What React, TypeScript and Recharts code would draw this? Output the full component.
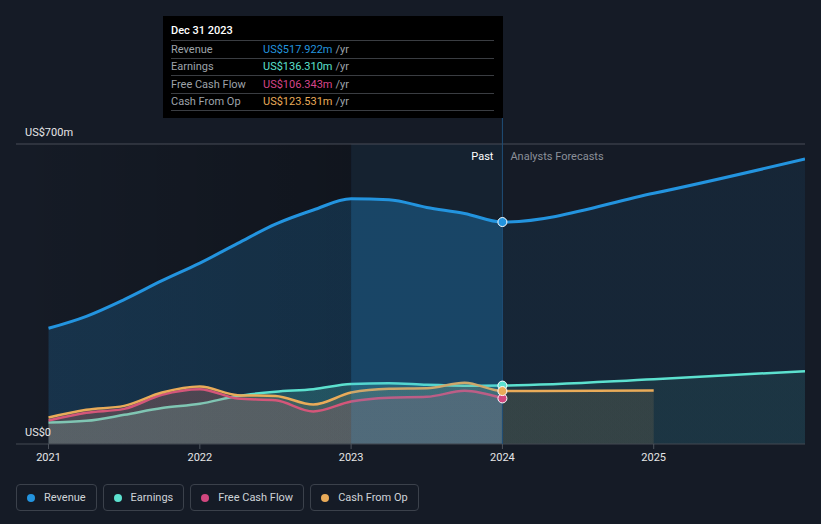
import React from 'react';
import {
  ComposedChart,
  Area,
  XAxis,
  YAxis,
  CartesianGrid,
  ReferenceArea,
  ReferenceLine,
  ReferenceDot,
} from 'recharts';

// ---------- data ----------
const pastYears = [2021, 2021.25, 2021.5, 2021.75, 2022, 2022.25, 2022.5, 2022.75, 2023, 2023.25, 2023.5, 2023.75, 2024];
const revenuePast = [270, 298, 337, 381, 422, 468, 513, 546, 572, 570, 552, 538, 517.922];
const earningsPast = [50, 54, 68, 84, 94, 112, 122, 128, 140, 142, 138, 136, 136.31];
const fcfPast = [55, 73, 82, 115, 128, 106, 102, 76, 99, 108, 110, 124, 106.343];
const cfoPast = [62, 80, 89, 120, 134, 114, 112, 92, 120, 129, 130, 143, 123.531];

const forecastYears = [2024, 2025, 2026];
const revenueForecast = [517.922, 585, 665];
const earningsForecast = [136.31, 151, 170];
const cfoForecast = [123.531, 125];

const xTicks = [2021, 2022, 2023, 2024, 2025];
const yTicks = [0, 200, 400, 600, 700];
const yLabelTicks = [0, 700];
const xDomain: [number, number] = [2020.785, 2026];
const yDomain: [number, number] = [0, 700];
const highlightStart = 2023;
const nowYear = 2024;
const cursorTop = 770;
const tooltipDate = 'Dec 31 2023';

const series = [
  { key: 'revenue', name: 'Revenue', color: '#2394df', past: revenuePast },
  { key: 'earnings', name: 'Earnings', color: '#5ce1cf', past: earningsPast },
  { key: 'fcf', name: 'Free Cash Flow', color: '#d1477f', past: fcfPast },
  { key: 'cfo', name: 'Cash From Op', color: '#e9ab59', past: cfoPast },
];

const tooltipColors: Record<string, string> = {
  revenue: '#2394df',
  earnings: '#5ce1cf',
  fcf: '#d6458a',
  cfo: '#e9ab59',
};

const years = Array.from(new Set([...pastYears, ...forecastYears])).sort((a, b) => a - b);
const data = years.map((year) => {
  const pi = pastYears.indexOf(year);
  const fi = forecastYears.indexOf(year);
  const row: Record<string, number> = { year };
  if (pi >= 0) {
    row.revenue = revenuePast[pi];
    row.earnings = earningsPast[pi];
    row.fcf = fcfPast[pi];
    row.cfo = cfoPast[pi];
    if (year >= highlightStart && year <= nowYear) row.revenueHi = revenuePast[pi];
  }
  if (fi >= 0) {
    row.revenue = revenueForecast[fi];
    row.earnings = earningsForecast[fi];
    if (cfoForecast[fi] != null) row.cfo = cfoForecast[fi];
  }
  return row;
});

const lastIdx = pastYears.length - 1;
const fmt = (v: number) => `US$${v.toFixed(3)}m`;

// where "now" falls within each series' horizontal extent (for past / forecast fill split)
const firstYear = pastYears[0];
const revSplit = (nowYear - firstYear) / (forecastYears[revenueForecast.length - 1] - firstYear);
const earnSplit = (nowYear - firstYear) / (forecastYears[earningsForecast.length - 1] - firstYear);
const cfoSplit = (nowYear - firstYear) / (forecastYears[cfoForecast.length - 1] - firstYear);

const FONT = 'Roboto, "Noto Sans", sans-serif';

const YLabel = (props: any) => {
  const vb = props.viewBox || {};
  const v = props.tickValue;
  const label = v === 0 ? 'US$0' : `US$${v}m`;
  return (
    <text x={(vb.x ?? 0) + 9} y={(vb.y ?? 0) - 8.5} fill="#e6e6e6" fontSize={11} fontFamily={FONT}>
      {label}
    </text>
  );
};

const PastFutureLabel = (props: any) => {
  const vb = props.viewBox || {};
  const x = vb.x ?? 0;
  const y = vb.y ?? 0;
  return (
    <g fontFamily={FONT} fontSize={11}>
      <text x={x - 9} y={y + 16} textAnchor="end" fill="#ffffff">
        Past
      </text>
      <text x={x + 8} y={y + 16} textAnchor="start" fill="#8b9099">
        Analysts Forecasts
      </text>
    </g>
  );
};

const splitGradient = (id: string, color: string, split: number, pastOp: number, futOp: number) => (
  <linearGradient id={id} x1="0" y1="0" x2="1" y2="0">
    <stop offset={0} stopColor={color} stopOpacity={pastOp} />
    <stop offset={split} stopColor={color} stopOpacity={pastOp} />
    <stop offset={split} stopColor={color} stopOpacity={futOp} />
    <stop offset={1} stopColor={color} stopOpacity={futOp} />
  </linearGradient>
);

export default function App() {
  return (
    <div
      style={{
        position: 'absolute',
        left: 0,
        top: 0,
        width: 821,
        height: 524,
        background: '#151b26',
        overflow: 'hidden',
        fontFamily: FONT,
      }}
    >
      <ComposedChart
        width={821}
        height={524}
        data={data}
        margin={{ top: 144, right: 16, bottom: 50, left: 16 }}
        style={{ fontFamily: FONT }}
      >
        <defs>
          <linearGradient id="pastShade" x1="0" y1="0" x2="1" y2="0">
            <stop offset="0%" stopColor="#000" stopOpacity={0} />
            <stop offset="100%" stopColor="#000" stopOpacity={0.22} />
          </linearGradient>
          {splitGradient('revFill', '#2394df', revSplit, 0.2, 0.09)}
          {splitGradient('earnFill', '#5ce1cf', earnSplit, 0.2, 0.08)}
          {splitGradient('cfoFill', '#e9ab59', cfoSplit, 0.15, 0.12)}
        </defs>
        <CartesianGrid vertical={false} stroke="#2a303a" />
        <ReferenceArea
          x1={xDomain[0]}
          x2={highlightStart}
          y1={0}
          y2={700}
          fill="url(#pastShade)"
          fillOpacity={1}
          stroke="none"
          zIndex={-60}
        />
        <ReferenceArea
          x1={highlightStart}
          x2={nowYear}
          y1={0}
          y2={700}
          fill="#2394df"
          fillOpacity={0.06}
          stroke="none"
          zIndex={-60}
        />
        <ReferenceLine y={700} stroke="#3e434c" zIndex={-50} />
        {yLabelTicks.map((v) => (
          <ReferenceLine
            key={`yl${v}`}
            y={v}
            stroke="none"
            label={<YLabel tickValue={v} />}
            zIndex={2000}
          />
        ))}
        <XAxis
          dataKey="year"
          type="number"
          domain={xDomain}
          ticks={xTicks}
          allowDataOverflow
          height={30}
          axisLine={{ stroke: '#3a4049' }}
          tickLine={{ stroke: '#4d535c' }}
          tickSize={5}
          tickMargin={4}
          tick={{ fill: '#e6e6e6', fontSize: 11, fontFamily: FONT }}
          interval={0}
        />
        <YAxis width={0} domain={yDomain} ticks={yTicks} axisLine={false} tickLine={false} tick={false} />

        <Area type="monotone" dataKey="revenue" stroke="#2394df" strokeWidth={3} fill="url(#revFill)" fillOpacity={1} dot={false} activeDot={false} isAnimationActive={false} />
        <Area type="monotone" dataKey="earnings" stroke="#5ce1cf" strokeWidth={2.5} fill="url(#earnFill)" fillOpacity={1} dot={false} activeDot={false} isAnimationActive={false} />
        <Area type="monotone" dataKey="fcf" stroke="#d1477f" strokeWidth={2.5} fill="#d1477f" fillOpacity={0.15} dot={false} activeDot={false} isAnimationActive={false} />
        <Area type="monotone" dataKey="cfo" stroke="#e9ab59" strokeWidth={2.5} fill="url(#cfoFill)" fillOpacity={1} dot={false} activeDot={false} isAnimationActive={false} />
        <Area type="monotone" dataKey="revenueHi" stroke="none" fill="#2394df" fillOpacity={0.14} dot={false} activeDot={false} isAnimationActive={false} />

        <ReferenceLine
          segment={[
            { x: nowYear, y: 0 },
            { x: nowYear, y: cursorTop },
          ]}
          stroke="#1f4f78"
          strokeWidth={1}
          ifOverflow="visible"
          zIndex={1100}
        />
        <ReferenceLine x={nowYear} stroke="none" label={<PastFutureLabel />} zIndex={1100} />

        {series.map((s) => (
          <ReferenceDot
            key={s.key}
            x={nowYear}
            y={s.past[lastIdx]}
            r={4.5}
            fill={s.color}
            stroke="#ffffff"
            strokeWidth={1}
            zIndex={1200}
          />
        ))}
      </ComposedChart>

      {/* tooltip */}
      <div
        style={{
          position: 'absolute',
          left: 163,
          top: 16,
          width: 340,
          height: 102,
          background: '#000000',
          boxSizing: 'border-box',
          padding: '8px 9px 0 8px',
          fontSize: 11,
        }}
      >
        <div
          style={{
            height: 17,
            lineHeight: '14px',
            color: '#ffffff',
            fontWeight: 500,
            borderBottom: '1px solid #3a3d42',
            boxSizing: 'border-box',
          }}
        >
          {tooltipDate}
        </div>
        {series.map((s) => (
          <div
            key={s.key}
            style={{
              height: 17.5,
              display: 'flex',
              alignItems: 'center',
              borderBottom: '1px solid #3a3d42',
              boxSizing: 'border-box',
            }}
          >
            <span style={{ width: 92, color: '#9ea3aa' }}>{s.name}</span>
            <span style={{ color: tooltipColors[s.key] }}>{fmt(s.past[lastIdx])}</span>
            <span style={{ color: '#9ea3aa', marginLeft: 3 }}>/yr</span>
          </div>
        ))}
      </div>

      {/* legend */}
      <div
        style={{
          position: 'absolute',
          left: 16,
          top: 484,
          display: 'flex',
          gap: 6,
        }}
      >
        {series.map((s) => (
          <div
            key={s.key}
            style={{
              height: 27,
              boxSizing: 'border-box',
              border: '1px solid #3b414b',
              borderRadius: 4,
              padding: '0 10px',
              display: 'flex',
              alignItems: 'center',
              fontSize: 11,
              color: '#cfd3d8',
            }}
          >
            <span
              style={{
                width: 8,
                height: 8,
                borderRadius: '50%',
                background: s.color,
                display: 'inline-block',
                marginRight: 9,
              }}
            />
            {s.name}
          </div>
        ))}
      </div>
    </div>
  );
}
